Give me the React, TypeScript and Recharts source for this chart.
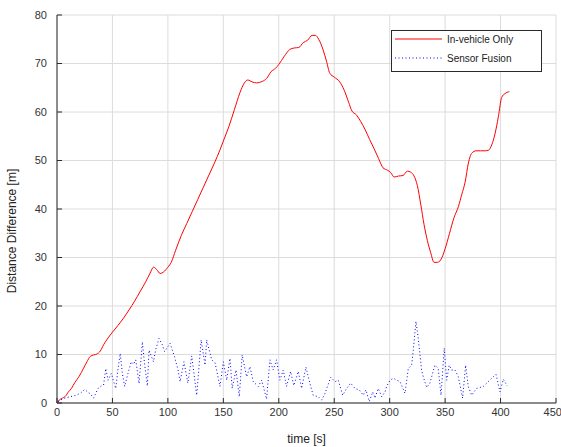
import { CartesianGrid, Label, Legend, Line, LineChart, XAxis, YAxis } from "recharts";

const redTime = [1, 2, 5, 8, 10, 13, 16, 20, 24, 27, 30, 33, 36, 39, 42, 46, 50, 55, 60, 65, 70, 75, 80, 84, 87, 90, 93, 96, 100, 103, 107, 112, 117, 122, 127, 132, 137, 142, 147, 150, 155, 160, 165, 169, 172, 176, 180, 185, 189, 193, 197, 200, 205, 210, 214, 218, 222, 226, 230, 233, 236, 240, 243, 246, 250, 255, 259, 263, 266, 270, 274, 278, 282, 286, 290, 294, 298, 301, 304, 308, 312, 316, 319, 322, 325, 328, 331, 334, 337, 340, 343, 346, 350, 354, 358, 362, 365, 368, 371, 374, 378, 382, 386, 389, 392, 395, 398, 401, 404, 408];
const redValue = [0.2, 0.6, 1, 1.5, 2.2, 3, 4.2, 5.5, 7.2, 8.5, 9.6, 9.9, 10.1, 10.7, 12, 13.4, 14.6, 16, 17.5, 19.2, 21, 23, 25, 26.8, 28, 27.5, 26.7, 27, 28, 29, 31.5, 34.5, 37, 39.5, 42, 44.5, 47, 49.5, 52.2, 54, 57, 60.5, 64, 66, 66.6, 66.2, 66, 66.3, 66.9, 68.3, 69, 69.8, 71.5, 72.9, 73.2, 73.3, 74.3, 74.8, 75.8, 75.8, 75, 72.8, 70.5, 68, 67.2, 66.2, 64.5, 62, 60.2, 59.4, 58, 56.3, 54.3, 52.4, 50.4, 48.5, 48, 47.5, 46.6, 46.8, 46.9, 47.8, 47.6, 46.8, 44.8, 41, 36.8, 33.5, 31, 29, 29, 29.5, 31.8, 35, 38.2, 40.5, 43, 45.5, 49.5, 51.5, 52, 52, 52, 52.1, 53.2, 55.5, 59, 63, 63.8, 64.2];

const blueTime = [1, 3, 7, 12, 17, 21, 25, 28, 30, 33, 35, 37, 40, 42, 44, 46, 49, 51, 53, 55, 57, 59, 61, 64, 67, 69, 71, 74, 77, 79, 81.5, 83, 87, 89, 92, 95, 97, 102, 106, 109, 111, 114.5, 118, 121.5, 126, 130, 133.5, 135, 139.5, 142.5, 147, 150, 153, 156, 158, 161.4, 164.4, 167, 171, 174, 177, 181.5, 184.6, 189, 192, 195, 198, 201, 204, 207, 210.7, 213.5, 217.6, 220.6, 224.5, 228, 231, 235.6, 238.7, 241.7, 246.8, 250.7, 253.7, 257.6, 261.2, 264.8, 268.7, 272.6, 276.2, 278.6, 281.6, 284.7, 286.7, 289.7, 292.8, 295.8, 297.3, 300.3, 303.3, 306.3, 309.3, 313.8, 316.8, 319.8, 321.3, 323.7, 325.8, 328.8, 330.3, 333.4, 336.3, 340.8, 343.8, 346.3, 349.2, 351.4, 353.7, 355.9, 358.9, 361.9, 365.8, 368.5, 370.9, 373.9, 378.4, 384.4, 392, 395.9, 399.5, 402.5, 406];
const blueValue = [0.3, 0.6, 1, 1.3, 1.6, 2, 2.8, 2.2, 1.9, 1, 2, 3, 3.5, 3.7, 7.1, 4.7, 6.1, 4.5, 3, 7, 10.2, 6, 3.4, 6.1, 8.5, 8, 8.9, 4, 12.6, 8, 3.5, 10.9, 8.5, 11, 13.3, 12, 10.6, 12.3, 9.5, 7, 4.4, 8.5, 4.1, 9.7, 1.6, 13, 7.8, 13, 8.9, 8.3, 3.4, 8.5, 4.7, 9.2, 3, 6.8, 1.3, 9.9, 5.4, 7.5, 4.4, 3.4, 4.7, 0.8, 8.9, 6.8, 8.9, 4.7, 6.8, 3.4, 6.5, 3.6, 6.5, 3, 7.4, 4.1, 1.6, 1.3, 0.6, 2, 5.3, 4.4, 4.7, 1.6, 3, 4.1, 3, 2.7, 1.6, 2.7, 0.3, 2.3, 1, 3, 1.3, 2.3, 3.4, 4.7, 5.1, 4.7, 4.4, 2, 7.1, 7.8, 10.9, 16.8, 13.3, 6.8, 5.4, 3.2, 4.1, 7.8, 7.1, 1.6, 11.3, 4.7, 7.8, 6.8, 6.8, 5.4, 1, 7.8, 3.4, 1.6, 3, 3.4, 5.1, 5.9, 2.3, 4.9, 3.5];

const xTicks = [0, 50, 100, 150, 200, 250, 300, 350, 400, 450];
const yTicks = [0, 10, 20, 30, 40, 50, 60, 70, 80];

const redData = redTime.map((t, i) => ({ t, v: redValue[i] }));
const blueData = blueTime.map((t, i) => ({ t, v: blueValue[i] }));

const font = "'Liberation Sans', Arial, sans-serif";
const tickStyle = { fontSize: 11, fill: "#333", fontFamily: font };
const frame = "#2a2a2a";

function LegendBox() {
  const row = (label: string, color: string, dash?: string, top = 0) => (
    <div style={{ position: "absolute", left: 3, top, height: 16, display: "flex", alignItems: "center" }}>
      <svg width={48} height={4}>
        <line x1={0} y1={2} x2={47} y2={2} stroke={color} strokeWidth={1} strokeDasharray={dash} />
      </svg>
      <span style={{ marginLeft: 4, fontSize: 10, color: "#222", fontFamily: font }}>{label}</span>
    </div>
  );
  return (
    <div style={{ position: "relative", width: 149, height: 40, border: `1px solid ${frame}`, background: "#fff" }}>
      {row("In-vehicle Only", "#ff0000", undefined, 0)}
      {row("Sensor Fusion", "#0000ff", "1 2.5", 19)}
    </div>
  );
}

export default function App() {
  return (
    <div style={{ position: "absolute", left: 0, top: 0, background: "#fff" }}>
      <LineChart width={561} height={447} margin={{ top: 15, right: 5, bottom: 0, left: 0 }}>
        <CartesianGrid xAxisId="b" yAxisId="l" stroke="#dcdcdc" />
        <XAxis
          xAxisId="b"
          dataKey="t"
          type="number"
          domain={[0, 450]}
          ticks={xTicks}
          height={44}
          tick={tickStyle}
          tickSize={-5}
          tickMargin={10}
          stroke={frame}
          allowDataOverflow
        >
          <Label value="time [s]" position="insideBottom" offset={4} style={{ fontSize: 12, fill: "#222", fontFamily: font }} />
        </XAxis>
        <XAxis
          xAxisId="t"
          orientation="top"
          type="number"
          domain={[0, 450]}
          ticks={xTicks}
          height={0}
          tickFormatter={() => ""}
          tickSize={-5}
          stroke={frame}
        />
        <YAxis
          yAxisId="l"
          type="number"
          domain={[0, 80]}
          ticks={yTicks}
          width={57}
          tick={tickStyle}
          tickSize={-5}
          tickMargin={15}
          stroke={frame}
        >
          <Label
            value="Distance Difference [m]"
            angle={-90}
            position="insideLeft"
            offset={12}
            dy={22}
            style={{ fontSize: 12, fill: "#222", fontFamily: font, textAnchor: "middle" }}
          />
        </YAxis>
        <YAxis
          yAxisId="r"
          orientation="right"
          type="number"
          domain={[0, 80]}
          ticks={yTicks}
          width={0}
          tickFormatter={() => ""}
          tickSize={-5}
          stroke={frame}
        />
        <Legend
          layout="vertical"
          align="center"
          verticalAlign="middle"
          content={() => <LegendBox />}
          wrapperStyle={{ position: "absolute", left: 391, top: 30, width: 151, height: 42 }}
        />
        <Line
          xAxisId="b"
          yAxisId="l"
          data={redData}
          dataKey="v"
          name="In-vehicle Only"
          type="monotone"
          stroke="#ff0000"
          strokeWidth={1}
          dot={false}
          isAnimationActive={false}
        />
        <Line
          xAxisId="b"
          yAxisId="l"
          data={blueData}
          dataKey="v"
          name="Sensor Fusion"
          type="linear"
          stroke="#0000ff"
          strokeWidth={1}
          strokeDasharray="1 2.5"
          dot={false}
          isAnimationActive={false}
        />
      </LineChart>
    </div>
  );
}
